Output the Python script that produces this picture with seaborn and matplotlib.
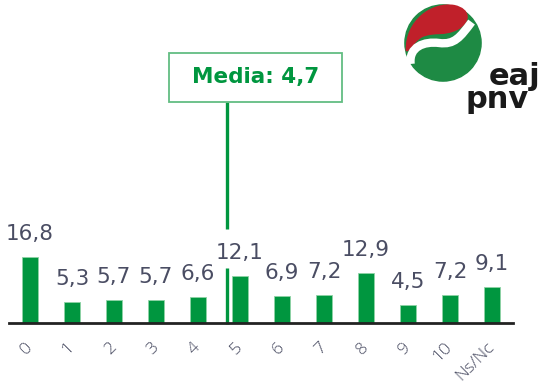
import matplotlib
matplotlib.use("Agg")
import matplotlib.pyplot as plt
import matplotlib.patches as mpatches
from matplotlib.path import Path
import seaborn as sns
import numpy as np

categories = ["0", "1", "2", "3", "4", "5", "6", "7", "8", "9", "10", "Ns/Nc"]
values = [16.8, 5.3, 5.7, 5.7, 6.6, 12.1, 6.9, 7.2, 12.9, 4.5, 7.2, 9.1]
mean_value = 4.7
mean_label = "Media: 4,7"

GREEN = "#00963F"
BOX_EDGE = "#62bd82"
GREY = "#4a4d63"

sns.set_theme(style="white")
plt.rcParams["font.family"] = ["DejaVu Sans"]

W, H = 546, 387
fig = plt.figure(figsize=(W / 100, H / 100), dpi=100)
fig.patch.set_facecolor("white")


def rect(x0, y0, x1, y1):
    return [x0 / W, 1 - y1 / H, (x1 - x0) / W, (y1 - y0) / H]


ax = fig.add_axes(rect(9, 0, 513, 322.5))
sns.barplot(x=categories, y=values, color=GREEN, saturation=1, width=0.4,
            ax=ax, edgecolor="#8fd3a6", linewidth=0.6)
ax.set_xlim(-0.5, 11.5)
ax.set_ylim(0, 322.5 / 3.87)
ax.set_facecolor("none")
for s in ["top", "left", "right"]:
    ax.spines[s].set_visible(False)
ax.spines["bottom"].set_color("#222222")
ax.spines["bottom"].set_linewidth(2)
ax.set_yticks([])
ax.set_xlabel("")
ax.set_ylabel("")
ax.tick_params(axis="x", length=0, pad=16)
ax.set_xticks(range(len(categories)))
ax.set_xticklabels(categories, rotation=45, ha="right", va="center",
                   rotation_mode="anchor", color=GREY, fontsize=12.5,
                   fontweight="light", family=["Open Sans", "DejaVu Sans"])

for i, v in enumerate(values):
    ax.annotate(f"{v:.1f}".replace(".", ","), (i, v), xytext=(0, 17),
                textcoords="offset pixels", ha="center", va="baseline",
                fontsize=15.5, color=GREY)

# mean line with a gap around the label of the bar it crosses
box_bottom_data = (322.5 - 102) / 3.87
near = values[int(round(mean_value))]
ax.plot([mean_value, mean_value], [-0.3, near + 2.0], color=GREEN, lw=2.4,
        clip_on=False, solid_capstyle="butt")
ax.plot([mean_value, mean_value], [near + 12.1, box_bottom_data], color=GREEN,
        lw=2.4, clip_on=False, solid_capstyle="butt")

# mean label box
bx0, by0, bx1, by1 = 169, 53, 342, 102
fig.patches.append(mpatches.Rectangle((bx0 / W, 1 - by1 / H), (bx1 - bx0) / W,
                                      (by1 - by0) / H, transform=fig.transFigure,
                                      facecolor="white", edgecolor=BOX_EDGE, lw=1.3))
fig.text((bx0 + bx1) / 2 / W, 1 - (by0 + by1) / 2 / H, mean_label, ha="center",
         va="center", fontsize=15.5, fontweight="bold", color=GREEN)

# logo approximation
lax = fig.add_axes(rect(403, 2, 483, 84))
lax.set_xlim(-1.05, 1.05)
lax.set_ylim(-1.05, 1.05)
lax.set_aspect("equal")
lax.axis("off")
lax.add_patch(mpatches.Circle((0, 0), 1.0, color="#1e8a44"))
red_verts = [(-0.98, -0.2), (-1.0, 0.6), (-0.3, 1.1), (0.3, 1.0),
             (0.75, 0.9), (0.75, 0.55), (0.4, 0.35),
             (0.0, 0.15), (-0.2, 0.3), (-0.55, 0.15),
             (-0.8, 0.0), (-0.9, -0.3), (-0.98, -0.2)]
codes = [Path.MOVETO] + [Path.CURVE4] * 12
lax.add_patch(mpatches.PathPatch(Path(red_verts, codes), facecolor="#c0202a",
                                 edgecolor="none"))
white_verts = [(-0.85, -0.55), (-0.9, -0.1), (-0.5, 0.05), (-0.1, 0.0),
               (0.3, -0.05), (0.45, 0.15), (0.75, 0.55)]
lax.add_patch(mpatches.PathPatch(Path(white_verts, [Path.MOVETO] + [Path.CURVE4] * 6),
                                 facecolor="none", edgecolor="white", lw=6))
fig.text(489 / W, 1 - 85 / H, "eaj", fontsize=22, fontweight="bold",
         color="#1a1a1a", ha="left", va="baseline")
fig.text(465 / W, 1 - 108 / H, "pnv", fontsize=22, fontweight="bold",
         color="#1a1a1a", ha="left", va="baseline")

fig.savefig("out.png", dpi=100, facecolor="white")
